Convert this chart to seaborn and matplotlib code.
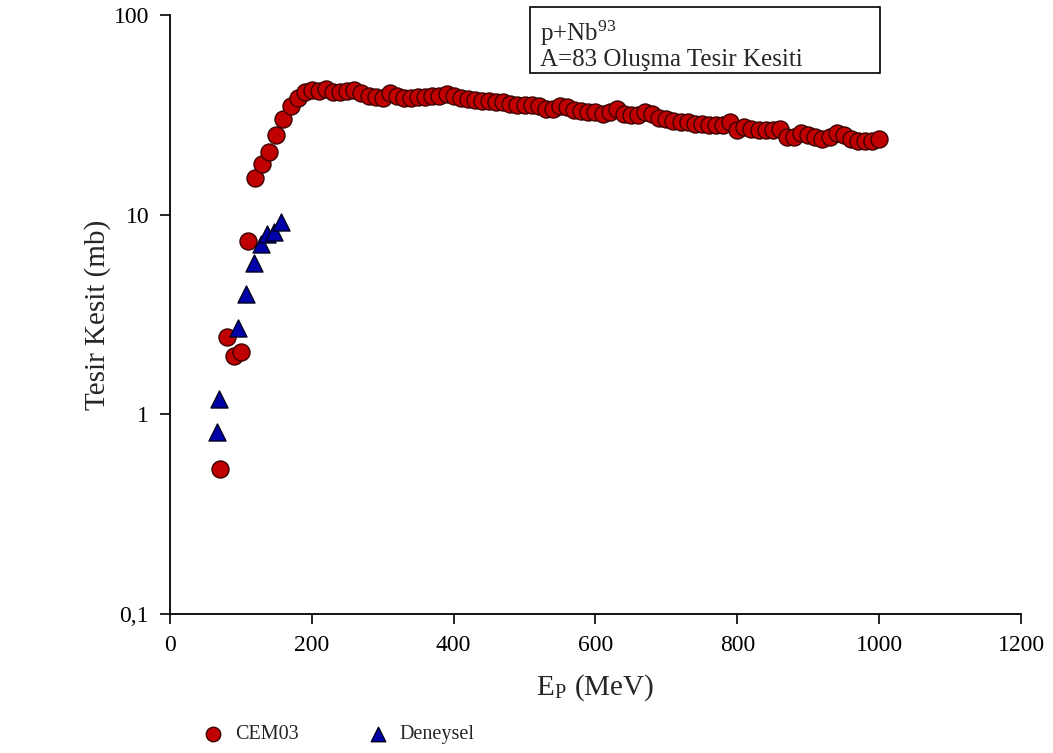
import numpy as np
import pandas as pd
import seaborn as sns
import matplotlib.pyplot as plt
from matplotlib.patches import Rectangle
from matplotlib.ticker import FixedLocator, FixedFormatter

# CEM03 hesap sonuclari (10 MeV adimlarla, 70-1000 MeV)
cem_energy = list(range(70, 1001, 10))
cem_sigma = [
    0.53, 2.45, 1.95, 2.05, 7.4, 15.2, 18.0, 20.5, 25.0, 30.0,
    35.0, 38.5, 41.0, 42.0, 41.5, 42.5, 41.0, 41.0, 41.5, 42.0,
    40.5, 39.5, 39.0, 38.5, 40.5, 39.5, 38.5, 38.5, 39.0, 39.0,
    39.5, 39.5, 40.0, 39.5, 38.5, 38.0, 37.5, 37.0, 37.0, 36.5,
    36.5, 36.0, 35.5, 35.5, 35.5, 35.0, 34.0, 34.0, 35.0, 34.5,
    33.5, 33.0, 32.5, 32.5, 32.0, 32.5, 34.0, 32.0, 31.5, 31.5,
    32.5, 32.0, 30.5, 30.0, 29.5, 29.0, 29.0, 28.5, 28.5, 28.0,
    28.0, 28.0, 29.0, 26.5, 27.5, 27.0, 26.5, 26.5, 26.5, 27.0,
    24.5, 24.5, 25.5, 25.0, 24.5, 24.0, 24.5, 25.5, 25.0, 24.0,
    23.5, 23.5, 23.5, 24.0,
]

# Deneysel veriler
exp_energy = [67, 69, 96, 107, 118, 128, 137, 147, 156]
exp_sigma = [0.82, 1.2, 2.72, 4.0, 5.72, 7.16, 8.0, 8.2, 9.2]

y_ticks = [0.1, 1, 10, 100]
y_tick_labels = ["0,1", "1", "10", "100"]
x_ticks = [0, 200, 400, 600, 800, 1000, 1200]

cem = pd.DataFrame({"E": cem_energy, "sigma": cem_sigma})
exp = pd.DataFrame({"E": exp_energy, "sigma": exp_sigma})

sns.set_style("ticks")
plt.rcParams["font.family"] = ["Liberation Serif", "DejaVu Serif"]
plt.rcParams["mathtext.fontset"] = "stix"

fig = plt.figure(figsize=(10.53, 7.53), dpi=100)
ax = fig.add_axes([0.1614, 0.1846, 0.8082, 0.7955])

sns.scatterplot(data=cem, x="E", y="sigma", ax=ax, marker="o", s=150,
                color="#c00000", edgecolor="#3a0000", linewidth=1.0,
                label="CEM03", zorder=3)
sns.scatterplot(data=exp, x="E", y="sigma", ax=ax, marker="^", s=150,
                color="#0000a8", edgecolor="#000020", linewidth=1.0,
                label="Deneysel", zorder=4)

ax.set_yscale("log")
ax.set_ylim(0.1, 100)
ax.set_xlim(0, 1200)
ax.yaxis.set_major_locator(FixedLocator(y_ticks))
ax.yaxis.set_major_formatter(FixedFormatter(y_tick_labels))
ax.yaxis.set_minor_locator(FixedLocator([]))
ax.set_xticks(x_ticks)
ax.set_xticklabels([str(v) for v in x_ticks])

ax.tick_params(axis="both", direction="out", length=7, width=1.2,
               labelsize=17, colors="black", pad=8)
for side in ["left", "bottom"]:
    ax.spines[side].set_linewidth(1.3)
    ax.spines[side].set_color("black")
sns.despine(ax=ax)

ax.set_xlabel(r"E$_\mathregular{P}$ (MeV)", fontsize=21, labelpad=12)
ax.set_ylabel("Tesir Kesit (mb)", fontsize=21, labelpad=2)

# bilgi kutusu (eksenin ustune tasiyor)
fig.patches.append(Rectangle((0.5033, 0.903), 0.3324, 0.0877,
                             transform=fig.transFigure, facecolor="white",
                             edgecolor="black", linewidth=1.2, zorder=5))
fig.text(0.513, 0.976, "p+Nb$^{\\mathregular{93}}$\nA=83 Oluşma Tesir Kesiti",
         fontsize=18, va="top", ha="left", linespacing=1.08, zorder=6)

ax.legend_.remove()
handles, labels = ax.get_legend_handles_labels()
fig.legend(handles, labels, loc="center", bbox_to_anchor=(0.322, 0.024),
           ncol=2, frameon=False, fontsize=14.5, handlelength=1.0,
           handletextpad=0.6, columnspacing=3.4, markerscale=0.85)

fig.savefig("out.png", dpi=100)
